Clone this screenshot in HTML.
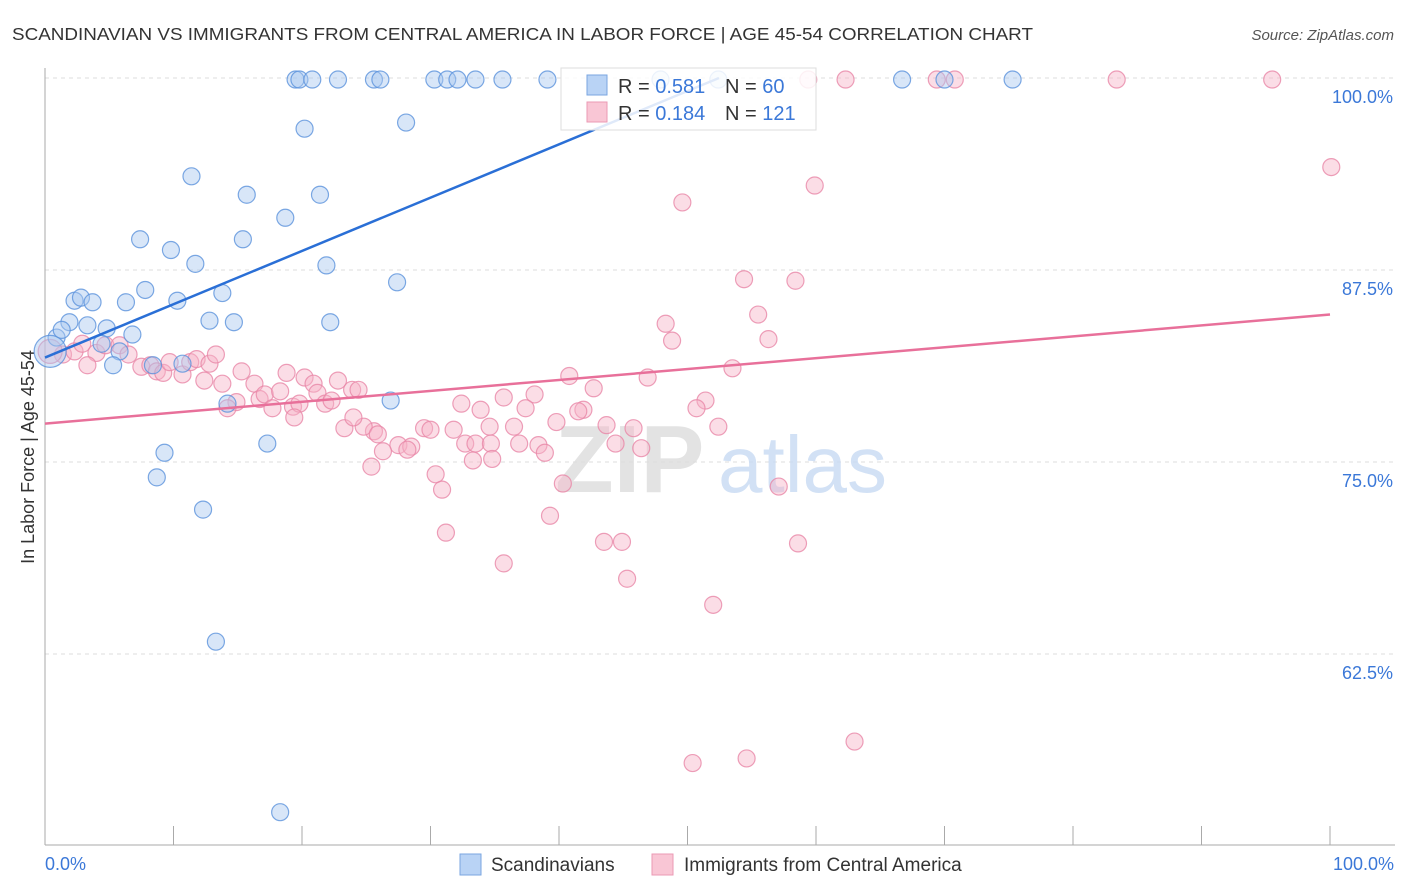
<!DOCTYPE html>
<html><head><meta charset="utf-8"><style>
body{margin:0;background:#fff;font-family:"Liberation Sans",sans-serif}
svg{display:block}
</style></head><body>
<svg width="1406" height="892" xmlns="http://www.w3.org/2000/svg">
<text x="12" y="40" font-size="17.5" fill="#333" textLength="1021" lengthAdjust="spacingAndGlyphs">SCANDINAVIAN VS IMMIGRANTS FROM CENTRAL AMERICA IN LABOR FORCE | AGE 45-54 CORRELATION CHART</text>
<text x="1394" y="40" font-size="15" fill="#555" text-anchor="end" font-style="italic">Source: ZipAtlas.com</text>
<g id="grid"></g>
<g>
<text x="555" y="492" font-size="96" fill="#ddd" font-weight="bold" opacity="0.8">ZIP</text>
<text x="718" y="492" font-size="80" fill="#c8daf3" opacity="0.8">atlas</text>
</g>
<line x1="45" y1="68" x2="45" y2="845" stroke="#aaa"/>
<line x1="45" y1="845" x2="1395" y2="845" stroke="#aaa"/>
<g id="xticks"></g>
<g id="ylabels"></g>
<text x="45" y="870" font-size="18" fill="#3b78d8">0.0%</text>
<text x="1394" y="870" font-size="18" fill="#3b78d8" text-anchor="end">100.0%</text>
<text transform="translate(34,457) rotate(-90)" font-size="18" fill="#333" text-anchor="middle">In Labor Force | Age 45-54</text>
<g id="pink"></g>
<g id="blue"></g>
<g id="trends"></g>
<g>
<rect x="561" y="68" width="255" height="62" fill="#fff" fill-opacity="0.85" stroke="#ddd"/>
<rect x="587" y="75" width="20" height="20" fill="#b9d3f5" stroke="#7aa6e0"/>
<rect x="587" y="102" width="20" height="20" fill="#f9c6d5" stroke="#eb9ab4"/>
<text x="618" y="93" font-size="20" fill="#333">R = <tspan fill="#3b78d8">0.581</tspan></text>
<text x="725" y="93" font-size="20" fill="#333">N = <tspan fill="#3b78d8"> 60</tspan></text>
<text x="618" y="120" font-size="20" fill="#333">R = <tspan fill="#3b78d8">0.184</tspan></text>
<text x="725" y="120" font-size="20" fill="#333">N = <tspan fill="#3b78d8">121</tspan></text>
</g>
<g>
<rect x="460" y="854" width="21" height="21" fill="#b9d3f5" stroke="#7aa6e0"/>
<text x="491" y="871" font-size="19" fill="#333">Scandinavians</text>
<rect x="652" y="854" width="21" height="21" fill="#f9c6d5" stroke="#eb9ab4"/>
<text x="684" y="871" font-size="19" fill="#333">Immigrants from Central America</text>
</g>
</svg>
<script>
const yTicks=[100,87.5,75,62.5];
const yTickLabels=["100.0%","87.5%","75.0%","62.5%"];
const xTickVals=[0,10,20,30,40,50,60,70,80,90,100];
const blueX=[19.5,19.8,20.8,22.8,25.6,26.1,30.3,31.3,32.1,33.5,35.6,39.1,47.9,52.4,66.7,70.0,75.3,20.2,28.1,11.4,15.7,21.4,18.7,7.4,9.8,15.4,11.7,21.9,27.4,2.3,2.8,3.7,6.3,7.8,10.3,13.8,1.9,3.3,4.8,6.8,12.8,14.7,22.2,0.9,1.3,4.4,5.8,5.3,8.4,10.7,14.2,26.9,9.3,8.7,17.3,12.3,13.3,18.3];
const blueY=[99.9,99.9,99.9,99.9,99.9,99.9,99.9,99.9,99.9,99.9,99.9,99.9,99.9,99.9,99.9,99.9,99.9,96.7,97.1,93.6,92.4,92.4,90.9,89.5,88.8,89.5,87.9,87.8,86.7,85.5,85.7,85.4,85.4,86.2,85.5,86.0,84.1,83.9,83.7,83.3,84.2,84.1,84.1,83.1,83.6,82.7,82.2,81.3,81.3,81.4,78.8,79.0,75.6,74.0,76.2,71.9,63.3,52.2];
const pinkX=[59.4,62.3,69.4,70.8,83.4,95.5,100.1,59.9,49.6,54.4,58.4,55.5,48.3,48.8,56.3,53.5,46.9,40.8,42.7,38.1,35.7,32.4,37.4,33.9,41.9,41.5,51.4,50.7,52.4,45.8,43.7,34.6,36.5,39.8,29.5,30.0,31.8,25.6,23.3,24.8,25.9,27.5,26.3,28.5,28.2,32.7,33.5,34.7,36.9,38.4,38.9,44.4,46.4,33.3,34.8,25.4,30.4,30.9,40.3,39.3,31.2,43.5,44.9,35.7,45.3,52.0,57.1,58.6,63.0,50.4,54.6,1.4,2.3,2.9,4.0,4.7,5.8,3.3,6.5,7.5,8.2,8.7,9.2,9.7,10.7,11.3,11.8,12.8,13.3,12.4,13.8,14.9,14.2,15.3,16.3,16.7,17.1,17.7,18.3,19.3,19.8,18.8,20.2,20.9,21.2,21.8,22.3,22.8,23.9,24.4,19.4,24.0];
const pinkY=[99.9,99.9,99.9,99.9,99.9,99.9,94.2,93.0,91.9,86.9,86.8,84.6,84.0,82.9,83.0,81.1,80.5,80.6,79.8,79.4,79.2,78.8,78.5,78.4,78.4,78.3,79.0,78.5,77.3,77.2,77.4,77.3,77.3,77.6,77.2,77.1,77.1,77.0,77.2,77.3,76.8,76.1,75.7,76.0,75.8,76.2,76.2,76.2,76.2,76.1,75.6,76.2,75.9,75.1,75.2,74.7,74.2,73.2,73.6,71.5,70.4,69.8,69.8,68.4,67.4,65.7,73.4,69.7,56.8,55.4,55.7,82.0,82.2,82.7,82.1,82.6,82.6,81.3,82.0,81.2,81.3,80.9,80.8,81.5,80.7,81.5,81.7,81.4,82.0,80.3,80.1,78.9,78.5,80.9,80.1,79.1,79.4,78.5,79.6,78.6,78.8,80.8,80.5,80.1,79.5,78.8,79.0,80.3,79.7,79.7,77.9,77.9];
const blueTrend=[81.8,0.347];
const pinkTrend=[77.5,0.071];
const X=v=>45+v*12.85;
const Y=v=>78+(100-v)*15.36;
const NS="http://www.w3.org/2000/svg";
function mk(t,a,p){const e=document.createElementNS(NS,t);for(const k in a)e.setAttribute(k,a[k]);p.appendChild(e);return e;}
const grid=document.getElementById('grid'),yl=document.getElementById('ylabels');
yTicks.forEach((v,i)=>{
 const l=mk('line',{x1:45,x2:1395,y1:Y(v),y2:Y(v),stroke:'#ddd','stroke-dasharray':'4,4'},grid);
 
 
 const t=mk('text',{x:1393,y:Y(v)+25,'font-size':18,fill:'#3b78d8','text-anchor':'end'},yl);
 t.textContent=yTickLabels[i];
 
 
});
const xt=document.getElementById('xticks');
xTickVals.forEach(v=>{
 const l=mk('line',{x1:X(v),x2:X(v),y1:826,y2:845,stroke:'#aaa'},xt);
 
 
});
function pts(id,xs,ys,fill,stroke,r,bigR){
 const g=document.getElementById(id);
 xs.forEach((x,i)=>{
  const c=mk('circle',{cx:X(x),cy:Y(ys[i]),r:r,fill:fill,'fill-opacity':0.45,stroke:stroke,'stroke-width':1.2,'stroke-opacity':0.8},g);
  
  
 });
 const b=mk('circle',{cx:X(0.4),cy:Y(82.2),r:bigR,fill:fill,'fill-opacity':0.45,stroke:stroke,'stroke-width':1.2,'stroke-opacity':0.8},g);
 
 
}
pts('pink',pinkX,pinkY,'#f6b4c8','#e987a7',8.5,12);
pts('blue',blueX,blueY,'#a9c8f0','#5b92dc',8.5,16);
const tr=document.getElementById('trends');
const bx2=(100-blueTrend[0])/blueTrend[1];
const bl=mk('line',{x1:X(0),y1:Y(blueTrend[0]),x2:X(bx2),y2:Y(100),stroke:'#2a6fd6','stroke-width':2.5},tr);


const pl=mk('line',{x1:X(0),y1:Y(pinkTrend[0]),x2:X(100),y2:Y(pinkTrend[0]+pinkTrend[1]*100),stroke:'#e8709a','stroke-width':2.5},tr);


</script>
</body></html>
